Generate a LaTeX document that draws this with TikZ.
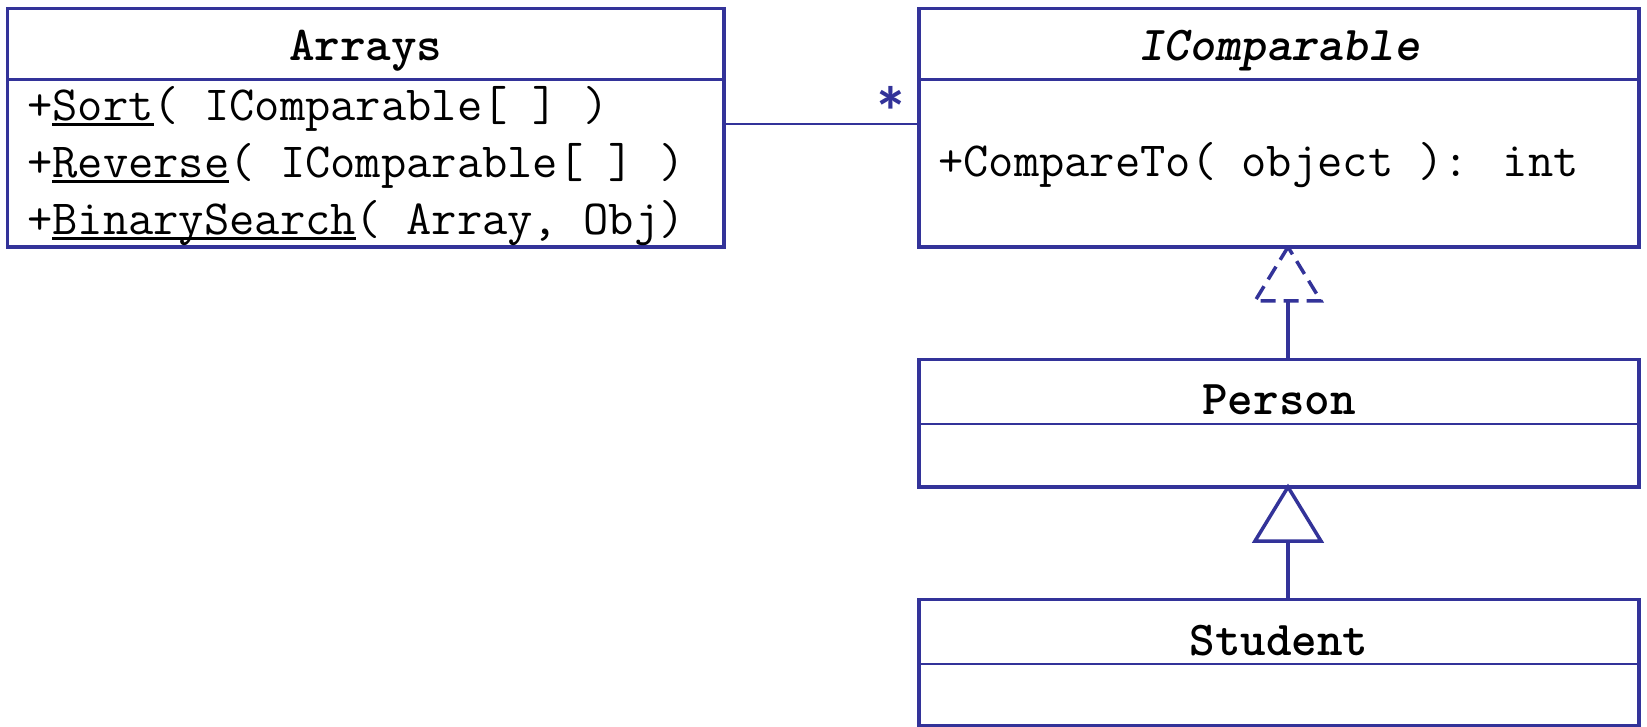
\documentclass[tikz,border=0pt]{standalone}
\usepackage{fontspec}
\usetikzlibrary{calc}
\newfontfamily\starfont{Carlito}
\definecolor{umlblue}{RGB}{51,51,153}
\newsavebox\ulbox
% underlined (static) operation name
\newcommand\ulword[1]{\sbox\ulbox{#1}\rlap{\rule[-5.5pt]{\wd\ulbox}{2.5pt}}\usebox\ulbox}

\begin{document}
\begin{tikzpicture}[x=1pt,y=-1pt,
  classbox/.style={draw=umlblue,line width=3.5pt,inner sep=0pt,outer sep=0pt,
    anchor=north west,minimum width=720pt},
  divider/.style={draw=umlblue,line width=2.5pt},
  title/.style={font=\ttfamily\bfseries\fontsize{48.7}{56}\selectfont,inner sep=0pt,anchor=base,text=black},
  member/.style={font=\ttfamily\fontsize{49.1}{56}\selectfont,inner sep=0pt,anchor=base west,text=black},
  assoc/.style={draw=umlblue,line width=2pt},
  realize/.style={draw=umlblue,line width=3.5pt,dash pattern=on 15pt off 8pt,line join=miter},
  generalize/.style={draw=umlblue,line width=3.5pt,fill=white,line join=miter},
  stem/.style={draw=umlblue,line width=3.5pt}]
\useasboundingbox (0,0) rectangle (1647,727);

% class boxes
\node[classbox,minimum width=716.5pt,minimum height=238.5pt] (arrays) at (7.5,8.5) {};
\node[classbox,minimum height=238.5pt] (icomp) at (919,8.5) {};
\node[classbox,minimum height=127.5pt] (person) at (919,359.5) {};
\node[classbox,minimum height=126pt] (student) at (919,599.5) {};

% compartment dividers
\draw[divider] (arrays.west |- 0,79.5) -- (arrays.east |- 0,79.5);
\draw[divider] (icomp.west |- 0,79.5) -- (icomp.east |- 0,79.5);
\draw[divider] (person.west |- 0,424) -- (person.east |- 0,424);
\draw[divider] (student.west |- 0,664) -- (student.east |- 0,664);

% class names
\node[title] (arrays-name) at (arrays.north |- 0,61) {Arrays};
\node[title,font=\ttfamily\bfseries\itshape\fontsize{48.7}{56}\selectfont] (icomp-name) at (icomp.north |- 0,61) {IComparable};
\node[title] (person-name) at (person.north |- 0,414.5) {Person};
\node[title] (student-name) at (student.north |- 0,655) {Student};

% operations
\node[member] (op-sort) at (27,120.5) {+\ulword{Sort}( IComparable[ ] )};
\node[member] (op-reverse) at (27,177.5) {+\ulword{Reverse}( IComparable[ ] )};
\node[member] (op-search) at (27,234.5) {+\ulword{BinarySearch}( Array, Obj)};
\node[member] (op-compare) at (938,177) {+CompareTo( object ): int};

% association with multiplicity
\draw[assoc] ([yshift=4pt]arrays.east) -- ([yshift=4pt]icomp.west);
\node[font=\starfont\bfseries\fontsize{70}{70}\selectfont,text=umlblue,inner sep=0pt,anchor=base] (mult) at (891,137) {*};

% Person realizes IComparable
\coordinate (r-apex) at ($(icomp.south)+(9,0)$);
\coordinate (r-base) at ($(r-apex)+(0,54)$);
\draw[stem] (r-base) -- (r-base |- person.north);
\draw[realize] (r-apex) -- ++(-33,54) -- ++(66,0) -- cycle;

% Student generalizes to Person
\coordinate (g-apex) at ($(person.south)+(9,0)$);
\coordinate (g-base) at ($(g-apex)+(0,54)$);
\draw[stem] (g-base) -- (g-base |- student.north);
\draw[generalize] (g-apex) -- ++(-33,54) -- ++(66,0) -- cycle;
\end{tikzpicture}
\end{document}
